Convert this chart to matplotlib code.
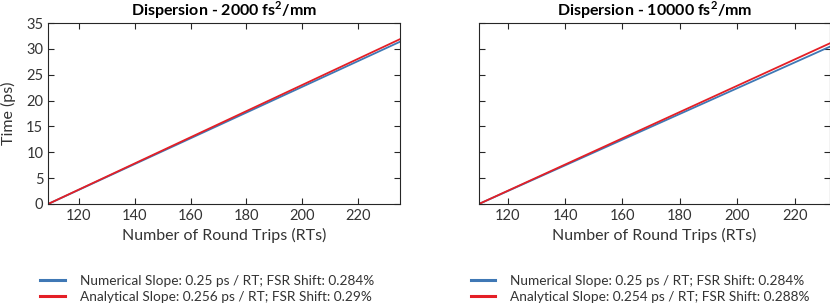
import matplotlib
matplotlib.use('Agg')
import matplotlib.pyplot as plt

# two straight lines per panel (start / end points)
rt_2000 = [109, 235]
num_2000 = [0, 31.4]
ana_2000 = [0, 31.9]

rt_10000 = [110, 232.3]
num_10000 = [0, 30.45]
ana_10000 = [0, 31.1]

titles = ['Dispersion - 2000 fs$^\\mathbf{2}$/mm', 'Dispersion - 10000 fs$^\\mathbf{2}$/mm']
labels_2000 = ['Numerical Slope: 0.25 ps / RT; FSR Shift: 0.284%',
               'Analytical Slope: 0.256 ps / RT; FSR Shift: 0.29%']
labels_10000 = ['Numerical Slope: 0.25 ps / RT; FSR Shift: 0.284%',
                'Analytical Slope: 0.254 ps / RT; FSR Shift: 0.288%']
xticks = [120, 140, 160, 180, 200, 220]
yticks = [0, 5, 10, 15, 20, 25, 30, 35]

plt.rcParams['font.family'] = ['Lato', 'DejaVu Sans']
plt.rcParams['mathtext.fontset'] = 'custom'
plt.rcParams['mathtext.rm'] = 'Lato'
plt.rcParams['mathtext.bf'] = 'Lato:bold'

blue = '#3f78b5'
red = '#e41f26'
dark = '#262626'

fig = plt.figure(figsize=(8.3, 3.04), dpi=100)
ax1 = fig.add_axes([0.058, 0.329, 0.424, 0.595])
ax2 = fig.add_axes([0.577, 0.329, 0.423, 0.595])

panels = [(ax1, rt_2000, num_2000, ana_2000, labels_2000, titles[0]),
          (ax2, rt_10000, num_10000, ana_10000, labels_10000, titles[1])]

for i, (ax, rt, num, ana, labs, title) in enumerate(panels):
    ax.plot(rt, num, color=blue, lw=1.3, label=labs[0])
    ax.plot(rt, ana, color=red, lw=1.3, label=labs[1])
    ax.set_xlim(rt[0], rt[-1])
    ax.set_ylim(0, 35)
    ax.set_xticks(xticks)
    ax.set_yticks(yticks)
    ax.tick_params(direction='in', top=True, right=True, length=4, width=0.8,
                   labelsize=10.5, colors=dark, labelcolor='#333333')
    for s in ax.spines.values():
        s.set_color(dark)
        s.set_linewidth(0.8)
    ax.set_title(title, fontsize=11.5, fontweight='bold', pad=5)
    ax.set_xlabel('Number of Round Trips (RTs)', fontsize=11.5, color='#333333')
    leg = ax.legend(loc='upper left', bbox_to_anchor=(-0.023, -0.39), frameon=False,
                    fontsize=9.8, handlelength=1.8, handletextpad=1.1,
                    labelspacing=0.3, borderaxespad=0, borderpad=0)
    for line in leg.get_lines():
        line.set_linewidth(2.2)
    for t in leg.get_texts():
        t.set_color('#333333')

ax1.set_ylabel('Time (ps)', fontsize=11.5, color='#333333')
ax1.yaxis.set_label_coords(-0.092, 0.5)
ax2.set_yticklabels([])

fig.savefig('out.png', dpi=100)
